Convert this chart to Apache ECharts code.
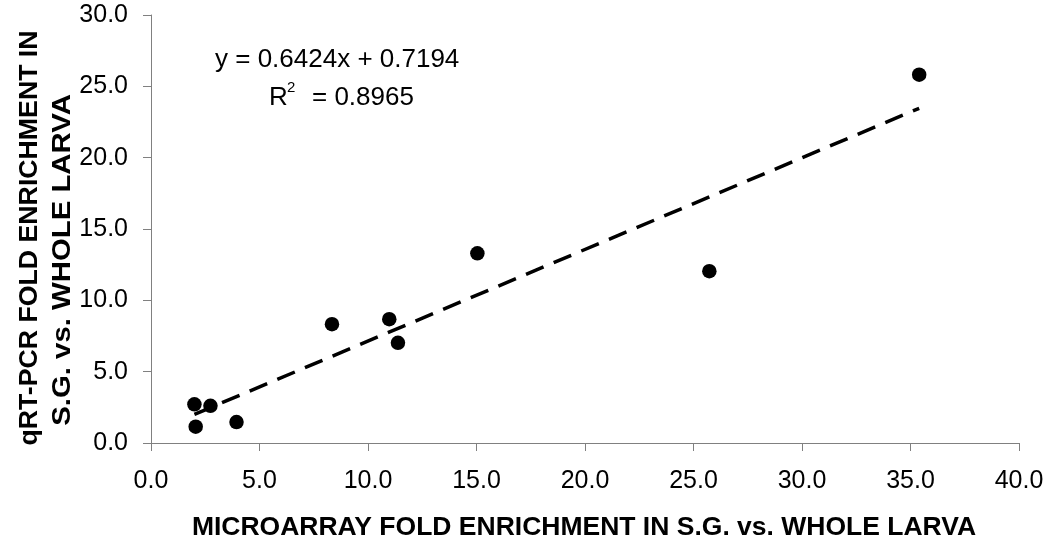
<!DOCTYPE html>
<html><head><meta charset="utf-8">
<script src="https://cdn.jsdelivr.net/npm/echarts@6/dist/echarts.min.js"></script>
<style>html,body{margin:0;padding:0;background:#fff}#c{width:1050px;height:548px}</style>
</head><body><div id="c"></div>
<script>
const xValues = [2.0, 2.06, 2.74, 3.94, 8.34, 10.98, 11.38, 15.04, 25.73, 35.4];
const yValues = [2.71, 1.14, 2.61, 1.47, 8.33, 8.68, 7.02, 13.3, 12.04, 25.82];
const slope = 0.6424, intercept = 0.7194;
const equationText = 'y = 0.6424x + 0.7194';
const r2Label = 'R', r2Sup = '2', r2Value = '= 0.8965';
const xTitle = 'MICROARRAY FOLD ENRICHMENT IN S.G. vs. WHOLE LARVA';
const yTitleLine1 = 'qRT-PCR FOLD ENRICHMENT IN';
const yTitleLine2 = 'S.G. vs. WHOLE LARVA';

const pts = xValues.map((x, i) => [x, yValues[i]]);
const xMin = Math.min(...xValues), xMax = Math.max(...xValues);
const trend = [[xMin, slope * xMin + intercept], [xMax, slope * xMax + intercept]];

const chart = echarts.init(document.getElementById('c'), null, {renderer: 'canvas'});
const font = '"Liberation Sans", Arial, sans-serif';
const axisCol = '#808080';
chart.setOption({
  animation: false,
  backgroundColor: '#fff',
  grid: {left: 151, right: 31, top: 15, bottom: 105, containLabel: false, outerBoundsMode: 'none'},
  xAxis: {
    type: 'value', min: 0, max: 40, interval: 5,
    splitLine: {show: false},
    axisLine: {show: true, onZero: false, lineStyle: {color: axisCol, width: 1}},
    axisTick: {show: true, inside: false, length: 8, lineStyle: {color: axisCol}},
    axisLabel: {color: '#000', fontFamily: font, fontSize: 25, margin: 26, formatter: v => v.toFixed(1)}
  },
  yAxis: {
    type: 'value', min: 0, max: 30, interval: 5,
    splitLine: {show: false},
    axisLine: {show: true, onZero: false, lineStyle: {color: axisCol, width: 1}},
    axisTick: {show: true, inside: false, length: 8, lineStyle: {color: axisCol}},
    axisLabel: {color: '#000', fontFamily: font, fontSize: 25, margin: 23, formatter: v => v.toFixed(1)}
  },
  series: [
    {type: 'line', data: trend, showSymbol: false, symbol: 'none', silent: true,
     lineStyle: {color: '#000', width: 3.5, type: [19, 11]}, z: 1},
    {type: 'scatter', data: pts, symbol: 'circle', symbolSize: 14.5,
     itemStyle: {color: '#000', opacity: 1}, z: 2}
  ],
  graphic: [
    {type: 'text', x: 215, y: 60, style: {text: equationText, font: '26px ' + font, fill: '#000', verticalAlign: 'middle', align: 'left'}},
    {type: 'text', x: 269, y: 98, style: {text: r2Label, font: '26px ' + font, fill: '#000', verticalAlign: 'middle', align: 'left'}},
    {type: 'text', x: 287, y: 88, style: {text: r2Sup, font: '15px ' + font, fill: '#000', verticalAlign: 'middle', align: 'left'}},
    {type: 'text', x: 312, y: 98, style: {text: r2Value, font: '26px ' + font, fill: '#000', verticalAlign: 'middle', align: 'left'}},
    {type: 'text', x: 584, y: 528, style: {text: xTitle, font: 'bold 26.5px ' + font, fill: '#000', verticalAlign: 'middle', align: 'center'}},
    {type: 'text', x: 30, y: 238, rotation: Math.PI / 2, style: {text: yTitleLine1, font: 'bold 26.7px ' + font, fill: '#000', verticalAlign: 'middle', align: 'center'}},
    {type: 'text', x: 63, y: 260, rotation: Math.PI / 2, scaleX: 1.1, style: {text: yTitleLine2, font: 'bold 26.7px ' + font, fill: '#000', verticalAlign: 'middle', align: 'center'}}
  ]
});
</script></body></html>
